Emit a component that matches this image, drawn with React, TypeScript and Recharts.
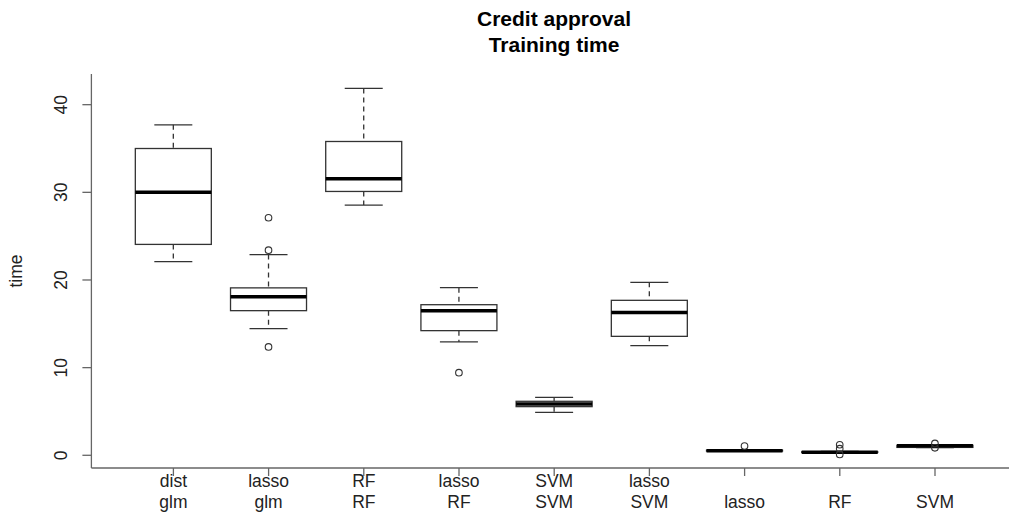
import React from "react";
import { ComposedChart, Bar, XAxis, YAxis } from "recharts";

// Training time (seconds) per model for the credit approval task
const categories = [
  "dist\nglm",
  "lasso\nglm",
  "RF\nRF",
  "lasso\nRF",
  "SVM\nSVM",
  "lasso\nSVM",
  "\nlasso",
  "\nRF",
  "\nSVM",
];
const lowerWhisker = [22.1, 14.45, 28.55, 12.93, 4.9, 12.5, 0.45, 0.3, 0.88];
const lowerQuartile = [24.06, 16.5, 30.1, 14.22, 5.55, 13.57, 0.48, 0.33, 0.9];
const medians = [30.0, 18.1, 31.55, 16.5, 5.86, 16.3, 0.52, 0.36, 1.1];
const upperQuartile = [35.0, 19.1, 35.8, 17.18, 6.16, 17.68, 0.58, 0.4, 1.14];
const upperWhisker = [37.7, 22.9, 41.85, 19.12, 6.61, 19.73, 0.62, 0.45, 1.16];
const outliers: number[][] = [
  [],
  [27.1, 23.4, 12.36],
  [],
  [9.43],
  [],
  [],
  [1.05],
  [1.2, 0.75, 0.1],
  [1.35, 0.85],
];
const yTicks = [0, 10, 20, 30, 40];

const data = categories.map((name, i) => ({
  name,
  lo: lowerWhisker[i],
  q1: lowerQuartile[i],
  med: medians[i],
  q3: upperQuartile[i],
  hi: upperWhisker[i],
  out: outliers[i],
}));

const FONT = '"Liberation Sans", Arial, Helvetica, sans-serif';
const AXIS = "#666";
const INK = "#333";

// Draws one box-and-whisker from the bar's [lo, hi] geometry
const BoxShape = (props: any) => {
  const { x, y, width, height, payload } = props;
  if (!payload) return null;
  const { lo, q1, med, q3, hi, out } = payload;
  const k = height / (hi - lo);
  const py = (v: number) => y + (hi - v) * k;
  const cx = x + width / 2;
  const cap = width / 4;
  return (
    <g>
      <line x1={cx} x2={cx} y1={py(hi)} y2={py(q3)} stroke={INK} strokeWidth={1.3} strokeDasharray="5 4" />
      <line x1={cx} x2={cx} y1={py(q1)} y2={py(lo)} stroke={INK} strokeWidth={1.3} strokeDasharray="5 4" />
      <line x1={cx - cap} x2={cx + cap} y1={py(hi)} y2={py(hi)} stroke={INK} strokeWidth={1.3} />
      <line x1={cx - cap} x2={cx + cap} y1={py(lo)} y2={py(lo)} stroke={INK} strokeWidth={1.3} />
      <rect x={x} y={py(q3)} width={width} height={py(q1) - py(q3)} fill="#fff" stroke={INK} strokeWidth={1.3} />
      <line x1={x} x2={x + width} y1={py(med)} y2={py(med)} stroke="#000" strokeWidth={3.5} />
      {out.map((v: number, j: number) => (
        <circle key={j} cx={cx} cy={py(v)} r={3.3} fill="none" stroke={INK} strokeWidth={1.1} />
      ))}
    </g>
  );
};

const CategoryTick = (props: any) => {
  const { x, y, payload } = props;
  const lines = String(payload.value).split("\n");
  return (
    <g>
      {lines.map((t, i) => (
        <text
          key={i}
          x={x}
          y={y + 10.7 + i * 21.6}
          textAnchor="middle"
          fontFamily={FONT}
          fontSize={17.5}
          fill="#222"
        >
          {t}
        </text>
      ))}
    </g>
  );
};

const ValueTick = (props: any) => {
  const { x, y, payload } = props;
  const bx = x - 15.7;
  return (
    <text
      x={bx}
      y={y}
      transform={`rotate(-90 ${bx} ${y})`}
      textAnchor="middle"
      fontFamily={FONT}
      fontSize={17.5}
      fill="#222"
    >
      {payload.value}
    </text>
  );
};

const AxisTitle = (props: any) => {
  const vb = props.viewBox || {};
  const cy = (vb.y ?? 74) + (vb.height ?? 394) / 2;
  const bx = 22;
  return (
    <text
      x={bx}
      y={cy}
      transform={`rotate(-90 ${bx} ${cy})`}
      textAnchor="middle"
      fontFamily={FONT}
      fontSize={17.5}
      fill="#222"
    >
      time
    </text>
  );
};

export default function App() {
  return (
    <div
      style={{
        position: "absolute",
        left: 0,
        top: 0,
        width: 1009,
        height: 516,
        overflow: "hidden",
        background: "#fff",
      }}
    >
      <svg
        width={1009}
        height={70}
        style={{ position: "absolute", left: 0, top: 0 }}
      >
        <text x={554} y={26} textAnchor="middle" fontFamily={FONT} fontSize={21} fontWeight="bold" fill="#000">
          Credit approval
        </text>
        <text x={554} y={51.7} textAnchor="middle" fontFamily={FONT} fontSize={21} fontWeight="bold" fill="#000">
          Training time
        </text>
      </svg>
      <ComposedChart
        width={1020}
        height={516}
        data={data}
        margin={{ top: 74, right: 3, bottom: 0, left: 0 }}
        barCategoryGap="10%"
      >
        <XAxis
          dataKey="name"
          type="category"
          height={48}
          interval={0}
          padding={{ left: 34.4, right: 34.4 }}
          axisLine={{ stroke: AXIS, strokeWidth: 1.3 }}
          tickLine={{ stroke: AXIS, strokeWidth: 1.3 }}
          tickSize={8}
          tickMargin={0}
          tick={<CategoryTick />}
        />
        <XAxis
          xAxisId="frame"
          dataKey="name"
          orientation="top"
          height={0}
          tick={false}
          tickLine={false}
          axisLine={{ stroke: AXIS, strokeWidth: 1.3 }}
        />
        <YAxis
          type="number"
          domain={[-1.45, 43.5]}
          ticks={yTicks}
          allowDataOverflow
          width={91.4}
          axisLine={{ stroke: AXIS, strokeWidth: 1.3 }}
          tickLine={{ stroke: AXIS, strokeWidth: 1.3 }}
          tickSize={9}
          tickMargin={0}
          tick={<ValueTick />}
          label={<AxisTitle />}
        />
        <Bar
          dataKey={(d: any) => [d.lo, d.hi]}
          shape={<BoxShape />}
          isAnimationActive={false}
        />
      </ComposedChart>
    </div>
  );
}
